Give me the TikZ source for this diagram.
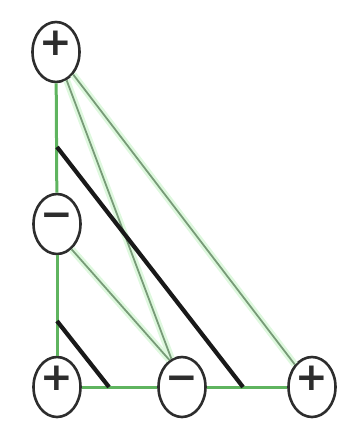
\documentclass[tikz,border=0pt]{standalone}
\usepackage{fontspec}
\newfontfamily\signfont{DejaVu Sans}
\usepackage{tikz}
\usetikzlibrary{shapes.geometric}
\usepackage{xcolor}

\definecolor{bondgreen}{RGB}{95,180,95}
\definecolor{linkgray}{RGB}{120,155,120}
\definecolor{haloGreen}{RGB}{222,248,222}
\definecolor{ringgray}{RGB}{45,45,45}

\begin{document}
\begin{tikzpicture}[
  x=1pt, y=-1pt,
  charge/.style={ellipse, draw=ringgray, line width=2.6pt, fill=white,
                 minimum width=47pt, minimum height=60pt, inner sep=0pt,
                 text height=0.72em, text depth=0pt,
                 text=ringgray, font=\signfont\bfseries\fontsize{39}{39}\selectfont},
  bond/.style={draw=bondgreen, line width=3pt},
  halo/.style={draw=haloGreen, line width=7pt},
  link/.style={draw=linkgray, line width=1.8pt},
  cut/.style={draw=black!90, line width=4.2pt}
]
\useasboundingbox (0,0) rectangle (340,421);

% the five charges
\node[charge] (pTop)  at (56,52)   {+};
\node[charge] (mLeft) at (57,224)  {−};
\node[charge] (pBL)   at (57,387)  {+};
\node[charge] (mBot)  at (182,387) {−};
\node[charge] (pBR)   at (312,387) {+};

% thin links, with a pale rim
\draw[halo] (pTop) -- (pBR);
\draw[halo] (pTop) -- (mBot);
\draw[halo] (mLeft.-60) -- (mBot.115);
\draw[link] (pTop) -- (pBR);
\draw[link] (pTop) -- (mBot);
\draw[link] (mLeft.-60) -- (mBot.115);

% green sides
\draw[bond] (pTop) -- (mLeft);
\draw[bond] (mLeft) -- (pBL);
\draw[bond] (pBL) -- (mBot);
\draw[bond] (mBot) -- (pBR);

% thick cuts
\coordinate (cutA1) at (57,147);
\coordinate (cutA2) at (243,387);
\coordinate (cutB1) at (57,321);
\coordinate (cutB2) at (109,387);
\draw[cut] (cutA1) -- (cutA2);
\draw[cut] (cutB1) -- (cutB2);

\end{tikzpicture}
\end{document}
